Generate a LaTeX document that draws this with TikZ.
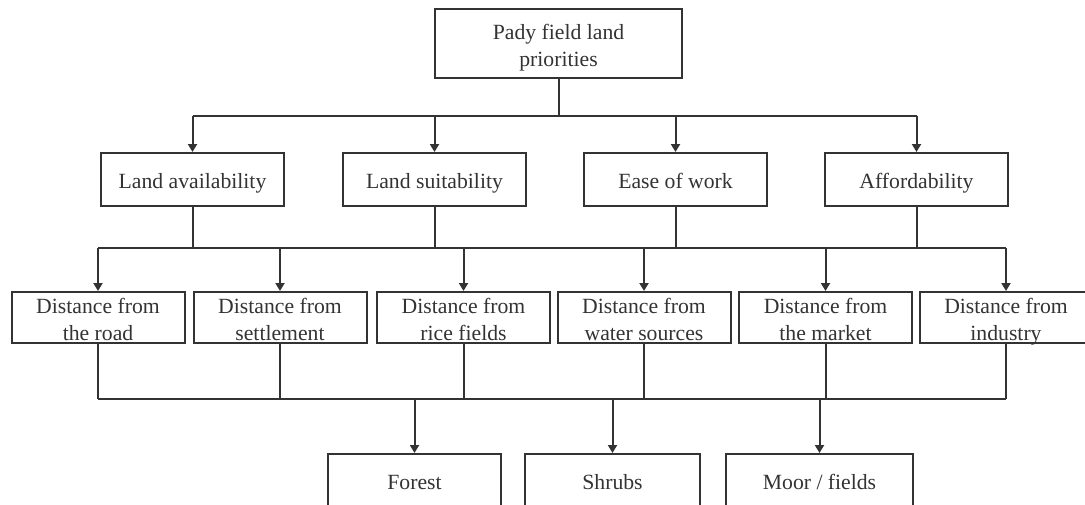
\documentclass[tikz,border=0pt]{standalone}
\usepackage{fontspec}
\setmainfont{Liberation Serif}
\usetikzlibrary{arrows.meta}
\definecolor{ink}{HTML}{333333}
\newcommand\fixstrut{\rule[-2.2pt]{0pt}{8.2pt}}
\begin{document}
\begin{tikzpicture}[x=0.5pt,y=-0.5pt,
  lbl/.style={inner sep=0pt,align=center,text=ink,yshift=-2pt,
    font=\fontsize{10.85pt}{13.75pt}\selectfont,
    execute at begin node=\fixstrut, execute at end node=\fixstrut},
  box/.style={draw=ink,line width=1pt,inner sep=0pt,label={[lbl]center:{#1}}},
  topbox/.style={box={#1},minimum width=123.5pt,minimum height=34.5pt},
  midbox/.style={box={#1},minimum width=91.5pt,minimum height=26.5pt},
  distbox/.style={box={#1},minimum width=86.5pt,minimum height=25.5pt},
  lowbox/.style={box={#1},minimum height=26.5pt},
  line/.style={draw=ink,line width=1pt},
  arr/.style={line,-{Triangle[length=4pt,width=4.5pt]}}]
\useasboundingbox (0,0) rectangle (1085,504);
\clip (0,0) rectangle (1085,504);
\node[topbox={Pady field land\\priorities}] (top) at (558.5,43.5) {};
\node[midbox={Land availability}] (la) at (192.5,179.5) {};
\node[midbox={Land suitability}] (ls) at (434.5,179.5) {};
\node[midbox={Ease of work}] (ew) at (675.5,179.5) {};
\node[midbox={Affordability}] (af) at (916.5,179.5) {};
\node[distbox={Distance from\\the road}] (d1) at (98,317.5) {};
\node[distbox={Distance from\\settlement}] (d2) at (280,317.5) {};
\node[distbox={Distance from\\rice fields}] (d3) at (463.5,317.5) {};
\node[distbox={Distance from\\water sources}] (d4) at (644,317.5) {};
\node[distbox={Distance from\\the market}] (d5) at (825.5,317.5) {};
\node[distbox={Distance from\\industry}] (d6) at (1006,317.5) {};
\node[lowbox={Forest},minimum width=86.5pt] (fo) at (414.5,480.5) {};
\node[lowbox={Shrubs},minimum width=87.5pt] (sh) at (612.5,480.5) {};
\node[lowbox={Moor / fields},minimum width=93.5pt] (mo) at (819.5,480.5) {};
\coordinate (b1) at (0,116);
\coordinate (b2) at (0,248);
\coordinate (b3) at (0,399);
% level 1
\draw[line] (top.south) -- (top.south |- b1);
\draw[line] (la.north |- b1) -- (af.north |- b1);
\foreach \n in {la,ls,ew,af} \draw[arr] (\n.north |- b1) -- (\n.north);
% level 2
\foreach \n in {la,ls,ew,af} \draw[line] (\n.south) -- (\n.south |- b2);
\draw[line] (d1.north |- b2) -- (d6.north |- b2);
\foreach \n in {d1,d2,d3,d4,d5,d6} \draw[arr] (\n.north |- b2) -- (\n.north);
% level 3
\foreach \n in {d1,d2,d3,d4,d5,d6} \draw[line] (\n.south) -- (\n.south |- b3);
\draw[line] (d1.south |- b3) -- (d6.south |- b3);
\foreach \n in {fo,sh,mo} \draw[arr] (\n.north |- b3) -- (\n.north);
\end{tikzpicture}
\end{document}
